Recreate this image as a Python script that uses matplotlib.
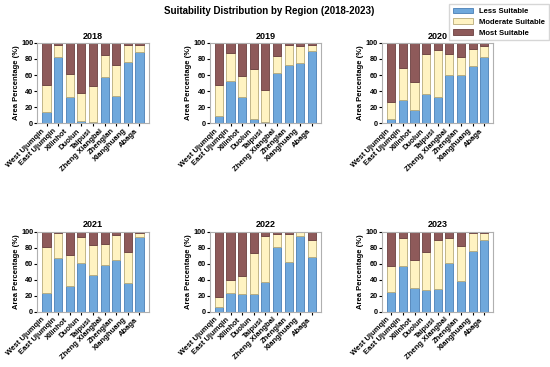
import numpy as np
import matplotlib.pyplot as plt

plt.rcParams['font.family'] = ['Liberation Sans', 'DejaVu Sans']
plt.rcParams['font.weight'] = 'bold'

# data
#______________________________________________________________________________
regions = ["West Ujumqin", "East Ujumqin", "Xilinhot", "Duolun", "Taipusi",
           "Zheng Xiangbai", "Zhenglan", "Xianghuang", "Abaga"]
years   = ["2018", "2019", "2020", "2021", "2022", "2023"]

less_suitable = {
    "2018": [14, 82, 33,  3,  2, 57, 34, 76, 89],
    "2019": [ 9, 52, 33,  5,  2, 63, 73, 75, 90],
    "2020": [ 5, 29, 17, 37, 33, 60, 60, 71, 82],
    "2021": [23, 67, 32, 61, 46, 59, 65, 36, 93],
    "2022": [ 6, 24, 22, 22, 37, 81, 62, 94, 68],
    "2023": [25, 57, 30, 27, 29, 61, 39, 76, 90],
}
moderate_suitable = {
    "2018": [33, 15, 28, 35, 44, 28, 39, 22,  9],
    "2019": [38, 35, 26, 63, 39, 21, 24, 21,  8],
    "2020": [22, 40, 34, 49, 58, 26, 23, 21, 14],
    "2021": [58, 31, 39, 32, 37, 25, 31, 39,  5],
    "2022": [13, 16, 23, 51, 58, 16, 35,  6, 22],
    "2023": [32, 35, 35, 48, 61, 31, 43, 22,  8],
}
most_suitable = {
    y: [100 - a - b for a, b in zip(less_suitable[y], moderate_suitable[y])]
    for y in years
}

colors = ["#6fa8dc", "#fff3c2", "#8e5a5a"]
edges  = ["#4a7fb5", "#b8ab7a", "#6a4040"]

# plotting
#______________________________________________________________________________
fig, axes = plt.subplots(2, 3, figsize=(5.5, 3.67), dpi=100)
fig.subplots_adjust(left=0.068, right=0.897, top=0.883, bottom=0.15,
                    wspace=0.55, hspace=1.35)

x = np.arange(len(regions))
for ax, year in zip(axes.flat, years):
    less = np.array(less_suitable[year])
    mod  = np.array(moderate_suitable[year])
    most = np.array(most_suitable[year])
    ax.bar(x, less, width=0.7, color=colors[0], edgecolor=edges[0],
           linewidth=0.6, label="Less Suitable")
    ax.bar(x, mod, width=0.7, bottom=less, color=colors[1],
           edgecolor=edges[1], linewidth=0.6, label="Moderate Suitable")
    ax.bar(x, most, width=0.7, bottom=less + mod, color=colors[2],
           edgecolor=edges[2], linewidth=0.6, label="Most Suitable")
    ax.set_ylim(0, 100)
    ax.set_title(year, fontsize=6.5, fontweight='bold', pad=3)
    ax.set_ylabel("Area Percentage (%)", fontsize=5.5, fontweight='bold',
                  labelpad=1)
    ax.set_xticks(x)
    ax.set_xticklabels(regions, rotation=45, ha='right', fontsize=5.5,
                       fontweight='bold')
    ax.set_yticks([0, 20, 40, 60, 80, 100])
    ax.tick_params(axis='y', labelsize=5.3, length=2, pad=1)
    ax.tick_params(axis='x', length=2, pad=1)
    for s in ax.spines.values():
        s.set_color("#b0b0b0")

fig.suptitle("Suitability Distribution by Region (2018-2023)", fontsize=7,
             fontweight='bold', x=0.49, y=0.985)

handles, labels = axes.flat[0].get_legend_handles_labels()
fig.legend(handles, labels, loc='upper right', bbox_to_anchor=(1.005, 1.0),
           fontsize=5.5, frameon=True, edgecolor="#cccccc", fancybox=False,
           handlelength=2.6, handleheight=0.7, borderpad=0.5,
           labelspacing=0.45)

fig.savefig("out.png", dpi=100)
